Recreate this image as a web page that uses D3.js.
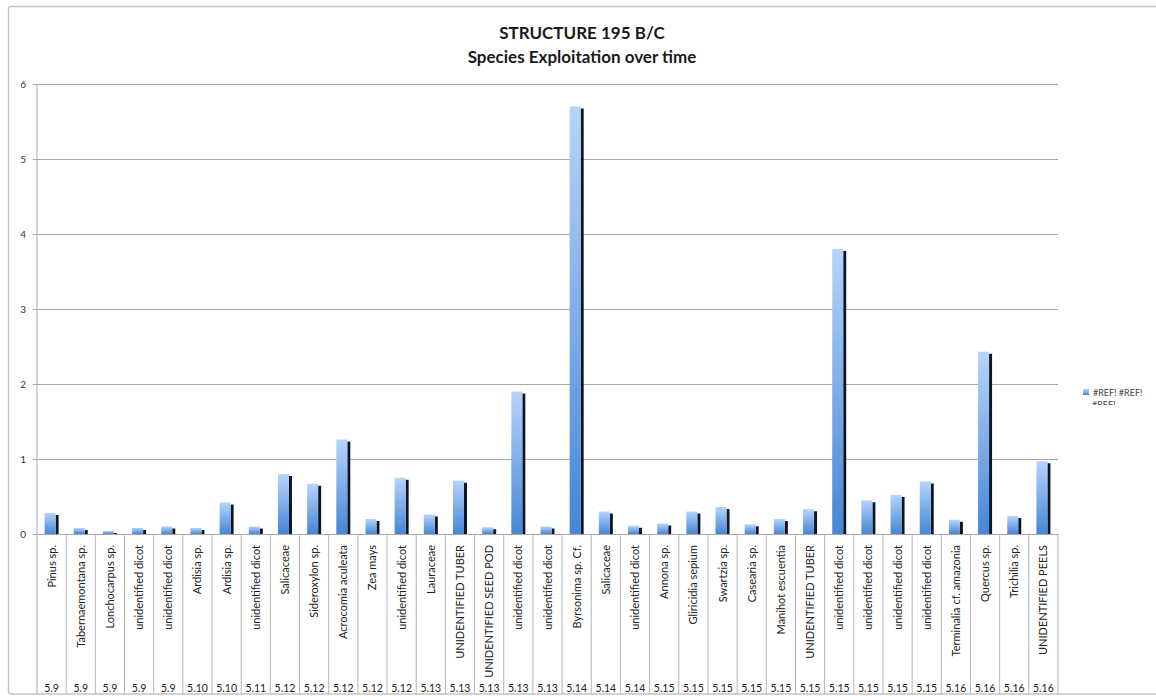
<!DOCTYPE html>
<html>
<head>
<meta charset="utf-8">
<script src="https://cdn.jsdelivr.net/npm/d3@7"></script>
<style>
  html, body { margin: 0; padding: 0; background: #fff; }
  svg { display: block; font-family: Lato, "Open Sans", sans-serif; }
</style>
</head>
<body>
<svg id="svg_chart" width="1156" height="696"></svg>
<script>
// Structure 195 B/C - species exploitation over time

const species = [
  'Pinus sp.', 'Tabernaemontana sp.', 'Lonchocarpus sp.', 'unidentified dicot', 'unidentified dicot',
  'Ardisia sp.', 'Ardisia sp.', 'unidentified dicot', 'Salicaceae', 'Sideroxylon sp.',
  'Acrocomia aculeata', 'Zea mays', 'unidentified dicot', 'Lauraceae', 'UNIDENTIFIED TUBER',
  'UNIDENTIFIED SEED POD', 'unidentified dicot', 'unidentified dicot', 'Byrsonima sp. Cf.', 'Salicaceae',
  'unidentified dicot', 'Annona sp.', 'Gliricidia sepium', 'Swartzia sp.', 'Casearia sp.',
  'Manihot escuentia', 'UNIDENTIFIED TUBER', 'unidentified dicot', 'unidentified dicot', 'unidentified dicot',
  'unidentified dicot', 'Terminalia cf. amazonia', 'Quercus sp.', 'Trichilia sp.', 'UNIDENTIFIED PEELS'
];

const levels = [
  '5.9', '5.9', '5.9', '5.9', '5.9',
  '5.10', '5.10', '5.11', '5.12', '5.12',
  '5.12', '5.12', '5.12', '5.13', '5.13',
  '5.13', '5.13', '5.13', '5.14', '5.14',
  '5.14', '5.15', '5.15', '5.15', '5.15',
  '5.15', '5.15', '5.15', '5.15', '5.15',
  '5.15', '5.16', '5.16', '5.16', '5.16'
];

const values = [
  0.28, 0.08, 0.04, 0.08, 0.10,
  0.08, 0.42, 0.10, 0.80, 0.67,
  1.26, 0.20, 0.75, 0.26, 0.71,
  0.09, 1.90, 0.10, 5.70, 0.30,
  0.11, 0.14, 0.30, 0.36, 0.13,
  0.20, 0.33, 3.80, 0.45, 0.52,
  0.70, 0.19, 2.43, 0.24, 0.97
];

const yTicks = [0, 1, 2, 3, 4, 5, 6];
const titleLines = ['STRUCTURE 195 B/C', 'Species Exploitation over time'];
const legendLines = ['#REF! #REF!', '#REF!'];

const svg = d3.select('#svg_chart');

/* Layout */

const plot = { left: 37, right: 1058, top: 84, bottom: 534, labelsBottom: 694 };

const rows = species.map((s, i) => ({ key: i, species: s, level: levels[i], value: values[i] }));

// X-Scale
const xScale = d3.scaleBand()
                 .domain(rows.map(d => d.key))
                 .range([plot.left, plot.right])
                 .padding(0);

// Y-Scale
const yScale = d3.scaleLinear()
                 .domain([0, 6])
                 .range([plot.bottom, plot.top]);

/* Gradient for the bars */

const defs = svg.append('defs');
const grad = defs.append('linearGradient')
                 .attr('id', 'barGrad')
                 .attr('x1', 0).attr('y1', 0).attr('x2', 0).attr('y2', 1);
grad.append('stop').attr('offset', '0%').attr('stop-color', '#b6d4fa');
grad.append('stop').attr('offset', '100%').attr('stop-color', '#4586d6');

// the legend box cuts its second line in half
defs.append('clipPath').attr('id', 'legendClip')
    .append('rect').attr('x', 1070).attr('y', 380).attr('width', 86).attr('height', 25);

/* Outer frame */

svg.append('rect')
   .attr('x', 8.5).attr('y', 6.5)
   .attr('width', 1170).attr('height', 687.5)
   .attr('rx', 3)
   .attr('fill', 'none')
   .attr('stroke', '#c4c4c4')
   .attr('stroke-width', 1.5);

/* Title */

svg.selectAll('text.title')
   .data(titleLines)
   .join('text')
   .attr('class', 'title')
   .attr('x', 582)
   .attr('y', (d, i) => 39 + i * 24)
   .attr('text-anchor', 'middle')
   .attr('font-size', 17).attr('font-weight', 'bold').attr('fill', '#1a1a1a')
   .text(d => d);

/* Gridlines and y axis */

const yAxis = d3.axisLeft(yScale)
                .tickValues(yTicks)
                .tickSize(plot.left - plot.right)
                .tickPadding(11)
                .tickFormat(d3.format('d'));

const yG = svg.append('g')
              .attr('id', 'y-axis')
              .attr('transform', `translate(${plot.left}, 0)`)
              .call(yAxis);

yG.select('.domain').remove();
yG.selectAll('.tick line')
  .attr('stroke', '#a8a8a8')
  .attr('x1', -4);
yG.selectAll('.tick text')
  .attr('font-family', 'Lato, "Open Sans", sans-serif')
  .attr('font-size', 10).attr('fill', '#333');

svg.append('line')
   .attr('x1', plot.left).attr('x2', plot.left)
   .attr('y1', plot.top).attr('y2', plot.labelsBottom)
   .attr('stroke', '#a8a8a8');

/* Category separators */

svg.append('g').selectAll('line')
   .data(rows)
   .join('line')
   .attr('x1', d => xScale(d.key) + xScale.bandwidth())
   .attr('x2', d => xScale(d.key) + xScale.bandwidth())
   .attr('y1', plot.bottom)
   .attr('y2', plot.labelsBottom)
   .attr('stroke', '#b4b4b4');

/* Bars: face plus dark side */

const faceW = 11, sideW = 3;

const bars = svg.append('g').selectAll('g')
                .data(rows)
                .join('g')
                .attr('transform', d => `translate(${xScale(d.key) + xScale.bandwidth() / 2 - 7}, 0)`);

bars.append('rect')
    .attr('x', faceW)
    .attr('y', d => Math.min(yScale(d.value) + 2, plot.bottom))
    .attr('width', sideW)
    .attr('height', d => Math.max(plot.bottom - yScale(d.value) - 2, 0))
    .attr('fill', '#0d1626');

bars.append('rect')
    .attr('x', 0)
    .attr('y', d => yScale(d.value))
    .attr('width', faceW)
    .attr('height', d => plot.bottom - yScale(d.value))
    .attr('fill', 'url(#barGrad)');

/* Category labels */

svg.append('g').selectAll('text')
   .data(rows)
   .join('text')
   .attr('transform', d => `translate(${xScale(d.key) + xScale.bandwidth() / 2 + 4}, 545) rotate(-90)`)
   .attr('text-anchor', 'end')
   .attr('font-size', 11).attr('fill', '#222')
   .text(d => d.species);

svg.append('g').selectAll('text')
   .data(rows)
   .join('text')
   .attr('x', d => xScale(d.key) + xScale.bandwidth() / 2)
   .attr('y', 692)
   .attr('text-anchor', 'middle')
   .attr('font-size', 10.5).attr('fill', '#222')
   .text(d => d.level);

/* Legend */

const legend = svg.append('g').attr('clip-path', 'url(#legendClip)');

legend.append('rect')
      .attr('x', 1083).attr('y', 389)
      .attr('width', 6).attr('height', 6)
      .attr('fill', 'url(#barGrad)');

legend.selectAll('text')
      .data(legendLines)
      .join('text')
      .attr('x', (d, i) => i === 0 ? 1093 : 1092)
      .attr('y', (d, i) => 396 + i * 12)
      .attr('font-size', 9).attr('fill', '#444')
      .text(d => d);
</script>
</body>
</html>
